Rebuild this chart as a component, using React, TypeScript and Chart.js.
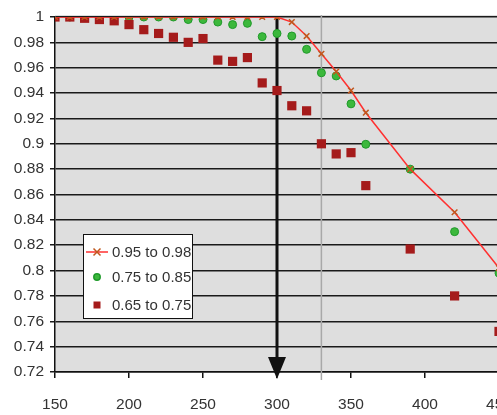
import React, { useEffect, useRef } from "react";
import { Chart, registerables } from "chart.js";

Chart.register(...registerables);

const xTickValues = [150, 200, 250, 300, 350, 400, 450];
const yTickValues = [0.72, 0.74, 0.76, 0.78, 0.8, 0.82, 0.84, 0.86, 0.88, 0.9, 0.92, 0.94, 0.96, 0.98, 1];

const highX = [150, 160, 170, 180, 190, 200, 210, 220, 230, 240, 250, 260, 270, 280, 290, 300, 310, 320, 330, 340, 350, 360, 390, 420, 450];
const highY = [1, 1, 1, 1, 1, 1, 1, 1, 1, 1, 1, 1, 1, 1, 1, 1, 0.996, 0.985, 0.971, 0.957, 0.942, 0.9245, 0.88, 0.846, 0.802];

const midX = [150, 160, 170, 180, 190, 200, 210, 220, 230, 240, 250, 260, 270, 280, 290, 300, 310, 320, 330, 340, 350, 360, 390, 420, 450];
const midY = [1, 1, 1, 1, 1, 1, 1, 1, 1, 0.998, 0.998, 0.996, 0.994, 0.995, 0.9845, 0.987, 0.985, 0.9745, 0.956, 0.9535, 0.9315, 0.8996, 0.88, 0.8307, 0.798];

const lowX = [150, 160, 170, 180, 190, 200, 210, 220, 230, 240, 250, 260, 270, 280, 290, 300, 310, 320, 330, 340, 350, 360, 390, 420, 450];
const lowY = [1, 1, 0.999, 0.998, 0.997, 0.994, 0.99, 0.987, 0.984, 0.98, 0.983, 0.966, 0.965, 0.968, 0.948, 0.942, 0.93, 0.926, 0.9, 0.892, 0.893, 0.867, 0.817, 0.78, 0.752];

const seriesNames = ["0.95 to 0.98", "0.75 to 0.85", "0.65 to 0.75"];
const arrowX = 300;
const markerX = 330;

const FONT = "'Liberation Sans', Arial, sans-serif";
const LINE_RED = "#ff3030";
const CROSS_COL = "#c0581e";
const GREEN_FILL = "#3cb83c";
const GREEN_BORDER = "#1f9a2a";
const SQ_RED = "#a51b1b";

const toPts = (xs: number[], ys: number[]) => xs.map((x, i) => ({ x, y: ys[i] }));

export default function App() {
  const ref = useRef<HTMLCanvasElement>(null);

  useEffect(() => {
    const canvas = ref.current!;

    const bgPlugin = {
      id: "bg",
      beforeDraw(chart: any) {
        const { ctx, chartArea } = chart;
        ctx.save();
        ctx.fillStyle = "#dedede";
        ctx.fillRect(chartArea.left, chartArea.top - 2, chartArea.right - chartArea.left, chartArea.bottom - chartArea.top + 2);
        ctx.restore();
      },
    };

    const overlayPlugin = {
      id: "overlay",
      beforeDatasetsDraw(chart: any) {
        const { ctx, chartArea, scales } = chart;
        const xs = scales.x;
        ctx.save();
        const mx = xs.getPixelForValue(markerX);
        ctx.strokeStyle = "#a8a8a8";
        ctx.lineWidth = 1.5;
        ctx.beginPath();
        ctx.moveTo(mx, chartArea.top - 2);
        ctx.lineTo(mx, chartArea.bottom + 8);
        ctx.stroke();
        const ax = xs.getPixelForValue(arrowX);
        const headTop = chartArea.bottom - 15;
        ctx.strokeStyle = "#111";
        ctx.lineWidth = 3;
        ctx.beginPath();
        ctx.moveTo(ax, chartArea.top);
        ctx.lineTo(ax, headTop + 2);
        ctx.stroke();
        ctx.fillStyle = "#111";
        ctx.beginPath();
        ctx.moveTo(ax - 9, headTop);
        ctx.lineTo(ax + 9, headTop);
        ctx.lineTo(ax, chartArea.bottom + 7);
        ctx.closePath();
        ctx.fill();
        ctx.restore();
      },
    };

    const legendPlugin = {
      id: "customLegend",
      afterDraw(chart: any) {
        const { ctx } = chart;
        const bx = 83, by = 234, bw = 109, bh = 84;
        ctx.save();
        ctx.fillStyle = "#fff";
        ctx.fillRect(bx, by, bw, bh);
        ctx.strokeStyle = "#111";
        ctx.lineWidth = 1;
        ctx.strokeRect(bx + 0.5, by + 0.5, bw, bh);
        const rows = [252, 277, 305];
        const mx = 97;
        ctx.strokeStyle = LINE_RED;
        ctx.lineWidth = 1.5;
        ctx.beginPath();
        ctx.moveTo(86, rows[0]);
        ctx.lineTo(108, rows[0]);
        ctx.stroke();
        ctx.strokeStyle = CROSS_COL;
        ctx.lineWidth = 1.5;
        ctx.beginPath();
        ctx.moveTo(mx - 3.5, rows[0] - 3.5);
        ctx.lineTo(mx + 3.5, rows[0] + 3.5);
        ctx.moveTo(mx + 3.5, rows[0] - 3.5);
        ctx.lineTo(mx - 3.5, rows[0] + 3.5);
        ctx.stroke();
        ctx.fillStyle = GREEN_FILL;
        ctx.strokeStyle = GREEN_BORDER;
        ctx.beginPath();
        ctx.arc(mx, rows[1], 3.2, 0, Math.PI * 2);
        ctx.fill();
        ctx.stroke();
        ctx.fillStyle = SQ_RED;
        ctx.fillRect(mx - 3.5, rows[2] - 3.5, 7, 7);
        ctx.fillStyle = "#333";
        ctx.font = `15px ${FONT}`;
        ctx.textBaseline = "middle";
        ctx.textAlign = "left";
        seriesNames.forEach((n, i) => ctx.fillText(n, 112, rows[i] + 1));
        ctx.restore();
      },
    };

    const chart = new Chart(canvas, {
      type: "scatter",
      data: {
        datasets: [
          {
            label: seriesNames[0],
            data: toPts(highX, highY),
            order: 0,
            showLine: true,
            borderColor: LINE_RED,
            borderWidth: 1.5,
            pointStyle: "crossRot",
            pointRadius: 4,
            pointBorderColor: CROSS_COL,
            pointBorderWidth: 1.5,
            pointBackgroundColor: CROSS_COL,
          },
          {
            label: seriesNames[1],
            data: toPts(midX, midY),
            order: 2,
            pointStyle: "circle",
            pointRadius: 4,
            pointBackgroundColor: GREEN_FILL,
            pointBorderColor: GREEN_BORDER,
            pointBorderWidth: 1,
          },
          {
            label: seriesNames[2],
            data: toPts(lowX, lowY),
            order: 1,
            pointStyle: "rect",
            pointRadius: 6.5,
            pointBackgroundColor: SQ_RED,
            pointBorderColor: SQ_RED,
            pointBorderWidth: 0,
          },
        ],
      },
      options: {
        responsive: false,
        animation: false,
        devicePixelRatio: 1,
        layout: { padding: { top: 17, right: 31, left: 0, bottom: 0 } },
        plugins: { legend: { display: false }, tooltip: { enabled: false } },
        scales: {
          x: {
            type: "linear",
            min: 150,
            max: 450,
            afterBuildTicks: (s: any) => {
              s.ticks = xTickValues.map((v) => ({ value: v }));
            },
            afterFit: (s: any) => {
              s.height = 43;
              s.paddingLeft = 0;
              s.paddingRight = 0;
            },
            grid: { drawOnChartArea: false, drawTicks: true, tickLength: 6, color: "#111", lineWidth: 1.5 },
            border: { color: "#111", width: 1.5 },
            ticks: {
              padding: 17,
              autoSkip: false,
              maxRotation: 0,
              color: "#333",
              font: { family: FONT, size: 15.5 },
              callback: (v: any) => String(v),
            },
          },
          y: {
            type: "linear",
            min: 0.72,
            max: 1,
            afterBuildTicks: (s: any) => {
              s.ticks = yTickValues.map((v) => ({ value: v }));
            },
            afterFit: (s: any) => {
              s.width = 55;
              s.paddingTop = 0;
              s.paddingBottom = 0;
            },
            grid: { color: "#1a1a1a", lineWidth: 1.5, tickLength: 5 },
            border: { color: "#111", width: 1.5 },
            ticks: {
              padding: 6,
              color: "#333",
              font: { family: FONT, size: 15.5 },
              callback: (v: any) => String(Number(Number(v).toFixed(2))),
            },
          },
        },
      },
      plugins: [bgPlugin, overlayPlugin, legendPlugin],
    } as any);

    return () => chart.destroy();
  }, []);

  return (
    <div style={{ position: "fixed", left: 0, top: 0, width: 497, height: 415, overflow: "hidden", background: "#fff" }}>
      <canvas ref={ref} width={530} height={415} style={{ width: 530, height: 415, display: "block" }} />
    </div>
  );
}
